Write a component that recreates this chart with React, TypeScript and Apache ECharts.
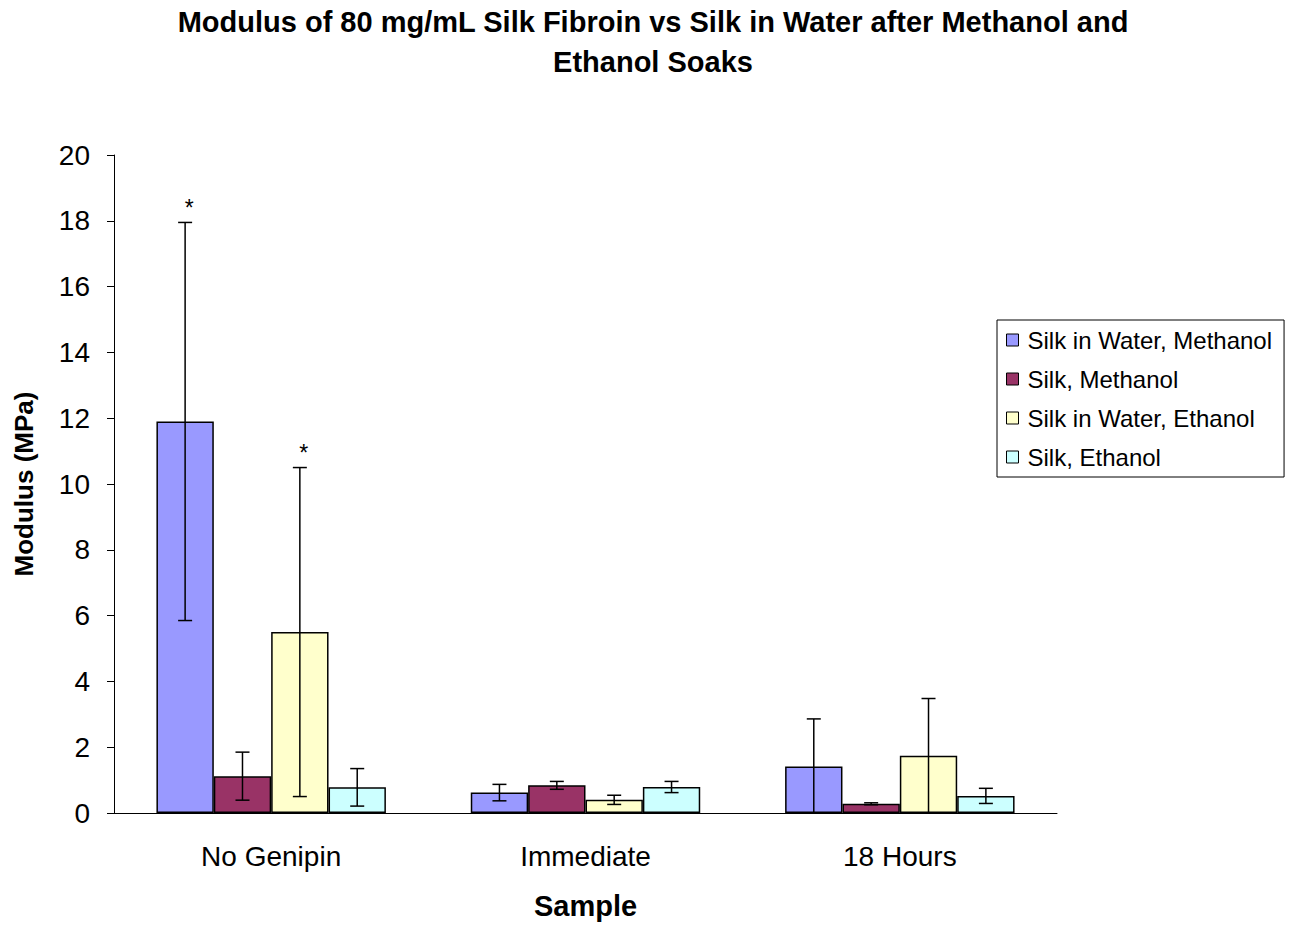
import React, { useEffect, useRef } from "react";
import * as echarts from "echarts";

const categories = ["No Genipin", "Immediate", "18 Hours"];
const seriesNames = [
  "Silk in Water, Methanol",
  "Silk, Methanol",
  "Silk in Water, Ethanol",
  "Silk, Ethanol",
];
const seriesColors = ["#9999FF", "#993366", "#FFFFCC", "#CCFFFF"];
const means = [
  [11.9, 0.62, 1.41],
  [1.12, 0.84, 0.28],
  [5.5, 0.4, 1.74],
  [0.78, 0.79, 0.52],
];
const errors = [
  [6.05, 0.25, 1.45],
  [0.73, 0.12, 0.03],
  [5.0, 0.14, 1.74],
  [0.57, 0.17, 0.23],
];
const stars = [
  [1, 0, 0],
  [0, 0, 0],
  [1, 0, 0],
  [0, 0, 0],
];
const yTicks = { min: 0, max: 20, interval: 2 };

const FONT = "'Liberation Sans', Arial, sans-serif";
const CAT_GAP = 0.27;

export default function App() {
  const ref = useRef<HTMLDivElement>(null);
  useEffect(() => {
    document.body.style.margin = "0";
    const chart = echarts.init(ref.current!, null, { renderer: "svg" });
    const barSeries = seriesNames.map((name, s) => ({
      name,
      type: "bar",
      data: means[s],
      barGap: "0%",
      barCategoryGap: CAT_GAP * 100 + "%",
      itemStyle: { color: seriesColors[s], borderColor: "#000", borderWidth: 1.5 },
      z: 2,
    }));
    const errSeries = seriesNames.map((name, s) => ({
      name: name + " err",
      type: "custom",
      z: 3,
      silent: true,
      encode: { x: 0, y: 1 },
      data: categories.map((_, i) => [i, means[s][i], errors[s][i], stars[s][i]]),
      renderItem: (params: any, api: any) => {
        const ci = api.value(0);
        const v = api.value(1);
        const e = api.value(2);
        const st = api.value(3);
        const band = api.size([1, 0])[0];
        const barW = (band * (1 - CAT_GAP)) / 4;
        const c = api.coord([ci, v]);
        const x = c[0] + (s - 1.5) * barW;
        const hiY = api.coord([ci, v + e])[1];
        const loV = Math.max(v - e, 0);
        const loY = api.coord([ci, loV])[1];
        const cap = 7;
        const ls = { stroke: "#000", lineWidth: 1.5 };
        const children: any[] = [
          { type: "line", shape: { x1: x, y1: hiY, x2: x, y2: loY }, style: ls },
          { type: "line", shape: { x1: x - cap, y1: hiY, x2: x + cap, y2: hiY }, style: ls },
        ];
        if (v - e > 0.02) {
          children.push({ type: "line", shape: { x1: x - cap, y1: loY, x2: x + cap, y2: loY }, style: ls });
        }
        if (st) {
          children.push({
            type: "text",
            style: {
              text: "*",
              x: x + 4,
              y: hiY - 3,
              align: "center",
              verticalAlign: "bottom",
              fontSize: 23,
              fontFamily: FONT,
              fill: "#000",
            },
          });
        }
        return { type: "group", children };
      },
    }));
    chart.setOption({
      animation: false,
      backgroundColor: "#fff",
      title: {
        text: "Modulus of 80 mg/mL Silk Fibroin vs Silk in Water after Methanol and\nEthanol Soaks",
        left: 653,
        top: 2,
        padding: 0,
        textAlign: "center",
        textStyle: { fontFamily: FONT, fontSize: 29, fontWeight: "bold", color: "#000", lineHeight: 40 },
      },
      legend: {
        data: seriesNames,
        orient: "vertical",
        left: 997,
        top: 320,
        itemWidth: 12,
        itemHeight: 12,
        itemGap: 15,
        padding: [8, 12, 8, 9],
        borderColor: "#000",
        borderWidth: 1,
        icon: "rect",
        itemStyle: { borderColor: "#000", borderWidth: 1 },
        textStyle: { fontFamily: FONT, fontSize: 24, color: "#000", padding: [0, 0, 0, 4] },
      },
      grid: { left: 114, top: 155, right: 238, bottom: 112 },
      xAxis: {
        type: "category",
        data: categories,
        name: "Sample",
        nameLocation: "middle",
        nameGap: 78,
        nameTextStyle: { fontFamily: FONT, fontSize: 29, fontWeight: "bold", color: "#000" },
        axisLine: { lineStyle: { color: "#000", width: 1 } },
        axisTick: { length: 7, lineStyle: { color: "#000" } },
        axisLabel: { fontFamily: FONT, fontSize: 28, color: "#000", margin: 29 },
      },
      yAxis: {
        type: "value",
        min: yTicks.min,
        max: yTicks.max,
        interval: yTicks.interval,
        name: "Modulus (MPa)",
        nameLocation: "middle",
        nameGap: 77,
        nameTextStyle: { fontFamily: FONT, fontSize: 26, fontWeight: "bold", color: "#000" },
        splitLine: { show: false },
        axisLine: { show: true, lineStyle: { color: "#000", width: 1 } },
        axisTick: { show: true, length: 7, lineStyle: { color: "#000" } },
        axisLabel: { fontFamily: FONT, fontSize: 28, color: "#000", margin: 24 },
      },
      series: [...barSeries, ...errSeries],
    });
    return () => chart.dispose();
  }, []);
  return <div ref={ref} style={{ width: 1295, height: 925 }} />;
}
